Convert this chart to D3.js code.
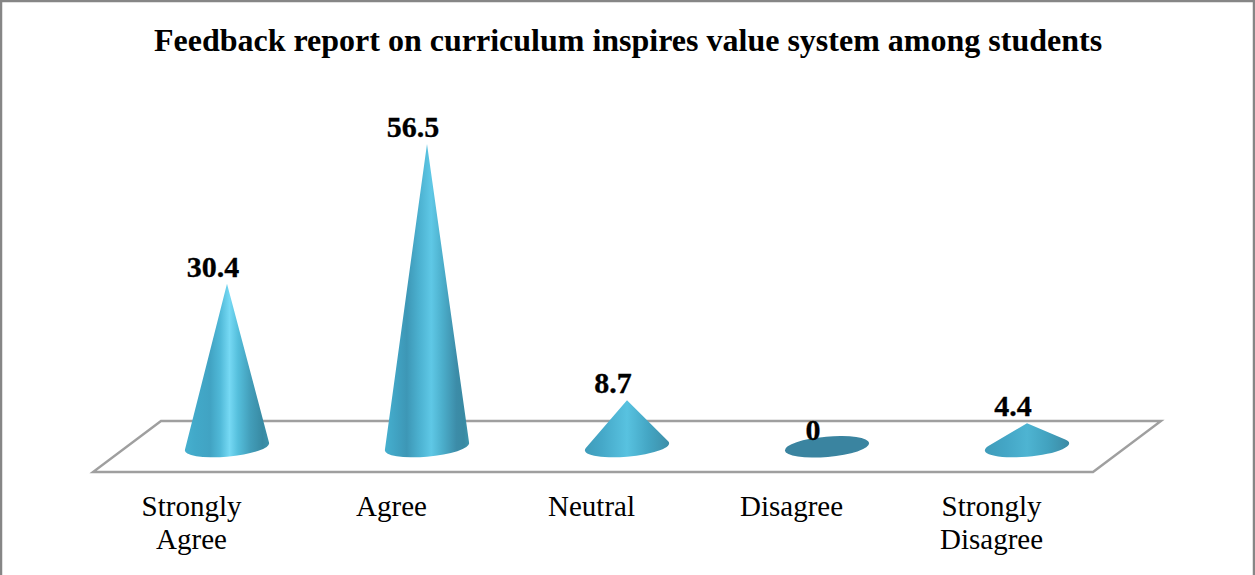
<!DOCTYPE html>
<html>
<head>
<meta charset="utf-8">
<script src="https://cdn.jsdelivr.net/npm/d3@7/dist/d3.min.js"></script>
<style>
html,body{margin:0;padding:0;background:#fff;overflow:hidden}
svg{display:block}
text{font-family:"Liberation Serif","Times New Roman",serif;fill:#000}
</style>
</head>
<body>
<svg id="chart" width="1255" height="575"></svg>
<script>
const chartTitle = "Feedback report on curriculum inspires value system among students";
const categories = ["Strongly Agree", "Agree", "Neutral", "Disagree", "Strongly Disagree"];
const values = [30.4, 56.5, 8.7, 0, 4.4];
const valueLabels = ["30.4", "56.5", "8.7", "0", "4.4"];

const W = 1255, H = 575;
const floorFrontY = 472, floorBackY = 421, depth = 68;
const baseY = 446.8, rx = 42.3, ry = 9.9, tiltDeg = -5;

const svg = d3.select("#chart");
const x = d3.scaleBand().domain(categories).range([93, 1093]);
const y = d3.scaleLinear().domain([0, 60]).range([baseY, baseY - 321.6]);
const cx = c => x(c) + x.bandwidth() / 2 + depth / 2;

// horizontal shading of each cone
const coneStops = [
  [[0, "#46b0cf"], [0.12, "#42a9c9"], [0.3, "#41a3c3"], [0.42, "#50b9d8"], [0.53, "#76d9f4"], [0.63, "#55bfdc"], [0.78, "#429db9"], [0.92, "#388aa3"], [1, "#3d92ab"]],
  [[0, "#46b0cf"], [0.12, "#41a4c4"], [0.26, "#3d97b6"], [0.42, "#4db3d2"], [0.55, "#5fc8e6"], [0.68, "#4cafcc"], [0.85, "#3c8ca8"], [0.94, "#398aa3"], [1, "#3f96ae"]],
  [[0, "#3f9cba"], [0.2, "#45a8c8"], [0.5, "#58c2e0"], [0.75, "#44a6c4"], [1, "#3d8ea8"]],
  [[0, "#3a84a0"], [1, "#3a84a0"]],
  [[0, "#3f9cba"], [0.25, "#44a6c6"], [0.5, "#4eb4d2"], [0.75, "#42a2bf"], [1, "#3c8aa4"]]
];
const defs = svg.append("defs");
categories.forEach((c, i) => {
  const g = defs.append("linearGradient").attr("id", "cone" + i)
    .attr("x1", 0).attr("x2", 1).attr("y1", 0).attr("y2", 0);
  coneStops[i].forEach(([o, col]) =>
    g.append("stop").attr("offset", o).attr("stop-color", col));
});

// frame
svg.append("rect").attr("x", 1).attr("y", 1).attr("width", W - 2).attr("height", H + 10)
  .attr("fill", "#fff").attr("stroke", "#868686").attr("stroke-width", 2.5);

// title
svg.append("text").attr("x", 628).attr("y", 50.5).attr("text-anchor", "middle")
  .attr("font-weight", "bold").attr("font-size", 32).text(chartTitle);

// floor
const fx0 = x.range()[0], fx1 = x.range()[1];
svg.append("path")
  .attr("d", d3.line()([[fx0, floorFrontY], [fx1, floorFrontY], [fx1 + depth, floorBackY], [fx0 + depth, floorBackY]]) + "Z")
  .attr("fill", "#fff").attr("stroke", "#9f9f9f").attr("stroke-width", 2.4);

// category axis
const axis = d3.axisBottom(x).tickSize(0).tickPadding(0);
const gx = svg.append("g").attr("transform", `translate(-1.5,${floorFrontY})`).call(axis);
gx.select(".domain").remove();
gx.selectAll(".tick text").each(function (c) {
  const t = d3.select(this).attr("font-size", 29).attr("fill", "#000").attr("y", 0).attr("dy", null).text(null);
  c.split(" ").forEach((w, k) =>
    t.append("tspan").attr("x", 0).attr("y", 44 + k * 33).text(w));
});
gx.attr("font-family", null).attr("font-size", null);

// cones: true tangents from the apex to the tilted base ellipse
const rad = tiltDeg * Math.PI / 180;
const conePath = d => {
  const c = cx(d.c), dy = y(d.v) - baseY;
  const pu = (dy * Math.sin(rad)) / rx, pv = (dy * Math.cos(rad)) / ry;
  const len = Math.hypot(pu, pv), th = Math.atan2(pv, pu), a = Math.acos(1 / len);
  const pt = t => {
    const u = rx * Math.cos(t), v = ry * Math.sin(t);
    return [c + u * Math.cos(rad) - v * Math.sin(rad), baseY + u * Math.sin(rad) + v * Math.cos(rad)];
  };
  const [lx, ly] = pt(th - a), [qx, qy] = pt(th + a);
  return `M${c},${baseY + dy}L${lx},${ly}A${rx},${ry} ${tiltDeg} 1 0 ${qx},${qy}Z`;
};
const rows = categories.map((c, i) => ({ c, v: values[i], label: valueLabels[i], i }));

svg.append("g").selectAll("path").data(rows.filter(d => d.v > 0)).join("path")
  .attr("d", conePath).attr("fill", d => `url(#cone${d.i})`);
svg.append("g").selectAll("ellipse").data(rows.filter(d => d.v === 0)).join("ellipse")
  .attr("cx", d => cx(d.c)).attr("cy", baseY).attr("rx", rx).attr("ry", ry + 0.3)
  .attr("transform", d => `rotate(${tiltDeg} ${cx(d.c)} ${baseY})`)
  .attr("fill", d => `url(#cone${d.i})`);

// value labels
svg.append("g").selectAll("text").data(rows).join("text")
  .attr("x", d => cx(d.c) - 14).attr("y", d => y(d.v) - 7)
  .attr("text-anchor", "middle").attr("font-weight", "bold").attr("font-size", 30)
  .attr("stroke", "#000").attr("stroke-width", 0.3)
  .text(d => d.label);
</script>
</body>
</html>
